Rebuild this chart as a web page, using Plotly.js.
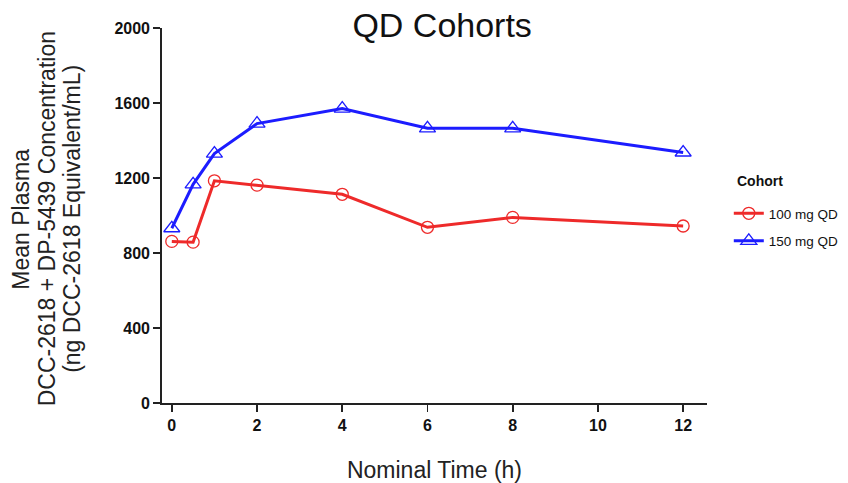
<!DOCTYPE html>
<html>
<head>
<meta charset="utf-8">
<script src="https://cdn.plot.ly/plotly-3.0.1.min.js"></script>
<style>html,body{margin:0;padding:0;background:#fff;}#chart{width:848px;height:483px;}</style>
</head>
<body>
<div id="chart"></div>
<script>
const time = [0, 0.5, 1, 2, 4, 6, 8, 12];
const dose100 = [862, 858, 1185, 1162, 1113, 937, 990, 944];
const dose150 = [932, 1166, 1330, 1490, 1570, 1465, 1465, 1336];
const seriesNames = ['100 mg QD', '150 mg QD'];
const xTicks = [0, 2, 4, 6, 8, 10, 12];
const yTicks = [0, 400, 800, 1200, 1600, 2000];
const yTitleLines = ['Mean Plasma', 'DCC-2618 + DP-5439 Concentration', '(ng DCC-2618 Equivalent/mL)'];

const font = 'Liberation Sans, Arial, sans-serif';
const traces = [
  {x: time, y: dose100, name: seriesNames[0], legendgroup: 'a', mode: 'lines+markers', type: 'scatter',
   line: {color: '#ee2a2a', width: 3},
   marker: {symbol: 'circle-open', size: 12, color: '#ee2a2a', line: {width: 1.3}}},
  {x: time, y: dose150, name: seriesNames[1], legendgroup: 'b', mode: 'lines+markers', type: 'scatter',
   line: {color: '#1c1cff', width: 3},
   marker: {symbol: 'triangle-up-open', size: 14, color: '#1c1cff', line: {width: 1.3}}}
];
const yTitleX = [-0.258, -0.211, -0.164];
const annotations = [{text: '<b>Cohort</b>', xref: 'paper', yref: 'paper', x: 1.051, y: 0.592, xanchor: 'left', yanchor: 'middle', showarrow: false,
    font: {family: font, size: 14, color: '#111'}}];
yTitleLines.forEach((t, i) => annotations.push({
  text: t, xref: 'paper', yref: 'paper', x: yTitleX[i], y: 0.49, xanchor: 'center', yanchor: 'middle',
  textangle: -90, showarrow: false, font: {family: font, size: 23, color: '#222'}
}));
const layout = {
  width: 848, height: 483,
  margin: {l: 162, r: 141, t: 28, b: 80, autoexpand: false},
  paper_bgcolor: '#fff', plot_bgcolor: '#fff',
  title: {text: 'QD Cohorts', font: {family: font, size: 34, color: '#111'}, x: 0.514, xanchor: 'center', xref: 'paper', yref: 'container', y: 0.948, yanchor: 'middle'},
  showlegend: true,
  legend: {x: 1.04, y: 0.468, xanchor: 'left', yanchor: 'middle', traceorder: 'grouped', tracegroupgap: 7,
    font: {family: font, size: 13.5, color: '#111'}},
  annotations: annotations,
  xaxis: {range: [-0.23, 12.56], tickvals: xTicks, ticktext: xTicks.map(String),
    showgrid: false, zeroline: false, showline: true, linecolor: '#222', linewidth: 1.8,
    ticks: 'outside', ticklen: 7, tickwidth: 1.8, tickcolor: '#222',
    tickfont: {family: font, size: 16, color: '#111', weight: 'bold'},
    title: {text: 'Nominal Time (h)', font: {family: font, size: 23, color: '#222'}, standoff: 30}},
  yaxis: {range: [0, 2000], tickvals: yTicks, ticktext: yTicks.map(String),
    showgrid: false, zeroline: false, showline: true, linecolor: '#222', linewidth: 1.8,
    ticks: 'outside', ticklen: 7, tickwidth: 1.8, tickcolor: '#222',
    tickfont: {family: font, size: 16, color: '#111', weight: 'bold'}}
};
Plotly.newPlot('chart', traces, layout, {displayModeBar: false, staticPlot: true});
</script>
</body>
</html>
